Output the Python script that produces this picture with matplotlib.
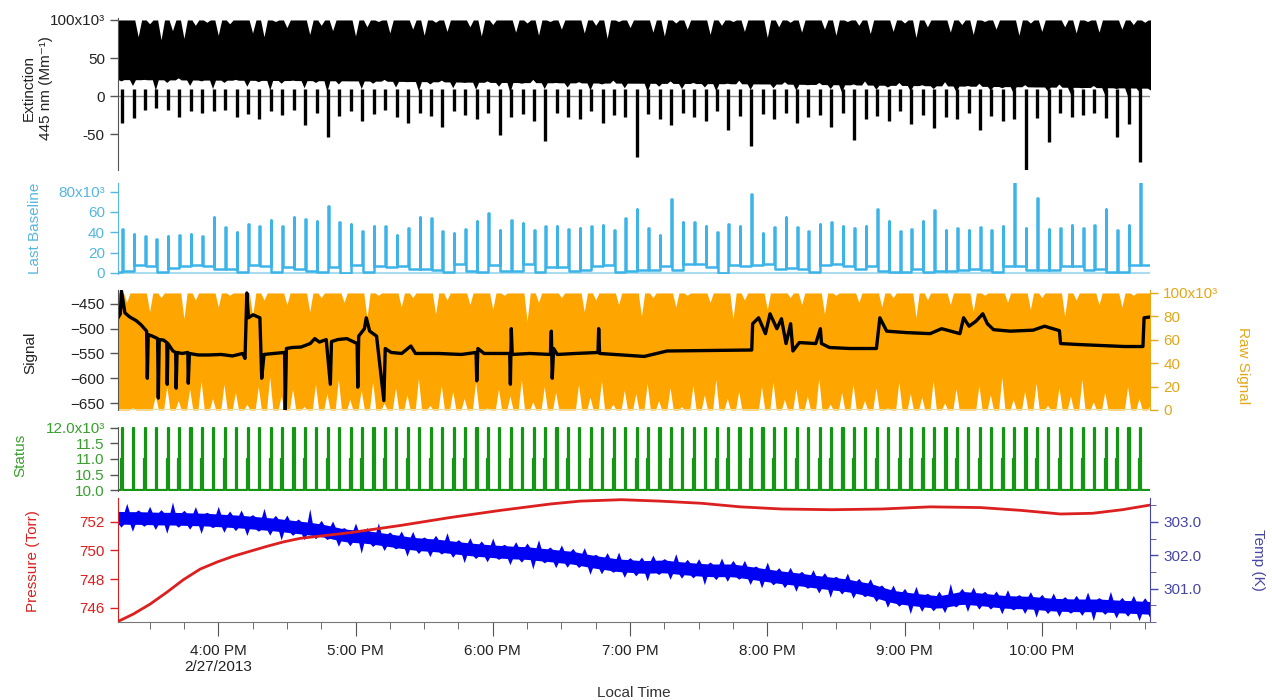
import numpy as np
import pandas as pd
import matplotlib
matplotlib.use("Agg")
import matplotlib.pyplot as plt
import matplotlib.dates as mdates
from matplotlib.ticker import FuncFormatter, MultipleLocator

plt.rcParams['font.family'] = ['Liberation Sans', 'DejaVu Sans']

######## Data ########
t_start = pd.Timestamp("2013-02-27 15:16:12")
t_end = pd.Timestamp("2013-02-27 22:47:18")

# zero / baseline events: first one 2 min after the start, then every 5 min
event_first_min = 1.8
event_step_min = 5.0
# noise notches on the dense traces: one every 5 min, top ones from 15:15, bottom ones 2.5 min later
notch_first_min = -1.2
notch_step_min = 5.0

# Last Baseline: spike height and level left after each event (x10^3)
base_peak = [43, 38, 36, 33, 36, 37, 38, 36, 55, 45, 40, 48, 46, 52, 46, 55, 53, 51, 66, 50,
             48, 41, 46, 46, 37, 44, 55, 54, 41, 39, 43, 51, 59, 42, 52, 49, 42, 46, 46, 43,
             44, 46, 47, 42, 54, 63, 44, 37, 73, 50, 50, 46, 40, 48, 46, 78, 39, 45, 55, 45,
             41, 48, 50, 46, 44, 46, 63, 51, 41, 43, 51, 62, 42, 44, 42, 45, 42, 46, 88, 44,
             74, 43, 44, 47, 44, 47, 63, 42, 47, 89]
base_level = [2.3, 8.2, 6.5, 1.0, 4.9, 7.2, 7.5, 6.5, 4.2, 4.2, 0.7, 8.2, 6.5, 1.0, 5.9, 3.9, 2.3, 1.0, 5.9, 0.0,
              8.2, 1.0, 7.2, 5.9, 6.5, 4.2, 4.2, 3.3, 1.0, 8.8, 2.3, 1.0, 8.2, 1.6, 1.6, 9.2, 1.0, 5.9, 5.9, 1.6,
              3.3, 6.5, 8.2, 1.0, 2.3, 3.3, 3.3, 7.2, 3.3, 8.8, 8.8, 5.9, 0.0, 7.5, 6.5, 8.2, 9.2, 3.9, 4.9, 3.9,
              1.0, 8.2, 9.2, 6.5, 3.9, 6.5, 1.6, 0.7, 0.7, 3.9, 0.7, 1.6, 1.6, 3.3, 4.2, 2.6, 0.7, 7.2, 7.2, 3.3,
              3.3, 3.3, 6.5, 6.5, 3.3, 3.9, 1.0, 1.0, 7.5, 8.2]
base_start_level = 0.5

# Extinction (x10^3 Mm-1): band top 100 with notches, band floor by the hour, dips at events
ext_top = [88, 100, 78, 95, 74, 86, 76, 93, 97, 80, 95, 100, 83, 78, 98, 90, 100, 81, 93, 86,
           100, 79, 91, 98, 83, 100, 88, 80, 97, 85, 100, 91, 79, 94, 100, 84, 96, 80, 98, 88,
           100, 83, 93, 76, 98, 90, 100, 84, 79, 96, 88, 100, 81, 93, 98, 85, 100, 77, 91, 97,
           84, 100, 88, 80, 98, 93, 82, 100, 85, 96, 77, 91, 100, 84, 94, 81, 98, 88, 100, 80,
           96, 85, 100, 91, 83, 98, 84, 100, 88, 94, 97, 89]
ext_bot = [20, 14, 22, 8, 18, 24, 14, 20, 10, 18, 22, 13, 19, 8, 17, 21, 11, 18, 6, 16,
           20, 10, 17, 22, 12, 19, 7, 16, 21, 11, 18, 9, 20, 13, 5, 17, 22, 10, 18, 12,
           19, 8, 16, 21, 11, 17, 6, 13, 20, 10, 18, 12, 7, 17, 21, 9, 16, 11, 19, 8,
           15, 18, 10, 5, 16, 20, 9, 12, 18, 7, 15, 10, 19, 6, 14, 17, 8, 11, 4, 15,
           12, 7, 16, 3, 11, 14, 2, 10, 0, 6, 8, 12]
ext_floor_hour = [15, 16, 17, 18, 19, 20, 21, 22, 23]
ext_floor = [22, 21, 20, 18, 17, 16, 14, 12, 10]
ext_dip = [-35, -29, -18, -15, -18, -27, -20, -22, -20, -18, -27, -24, -30, -20, -25, -18, -38, -22, -53, -26,
           -20, -32, -24, -18, -28, -35, -22, -26, -40, -20, -25, -30, -22, -51, -28, -24, -33, -59, -22, -27,
           -30, -20, -35, -25, -28, -80, -24, -30, -38, -22, -27, -33, -20, -45, -26, -66, -24, -30, -22, -35,
           -28, -25, -40, -22, -58, -30, -26, -33, -20, -36, -25, -42, -28, -30, -22, -45, -26, -32, -30, -97,
           -29, -60, -22, -27, -25, -22, -29, -53, -36, -86]

# Raw Signal (x10^3): fills 0..100 with notches from the top and from the bottom
raw_top = [100, 92, 100, 84, 96, 100, 78, 94, 100, 88, 98, 100, 80, 94, 100, 90, 100, 84, 96, 100,
           92, 100, 79, 98, 100, 88, 96, 100, 82, 94, 100, 90, 100, 86, 98, 100, 76, 92, 100, 96,
           100, 84, 94, 100, 90, 100, 80, 96, 100, 88, 98, 100, 92, 100, 78, 94, 100, 86, 100, 96,
           90, 100, 82, 98, 100, 92, 100, 88, 96, 100, 79, 94, 100, 90, 100, 84, 98, 100, 92, 100,
           86, 96, 100, 80, 94, 100, 90, 100, 88, 98, 100, 94]
raw_bot = [0, 2, 0, 12, 20, 8, 18, 25, 10, 22, 15, 5, 20, 28, 12, 18, 3, 22, 14, 26,
           9, 17, 24, 6, 19, 13, 27, 4, 21, 16, 10, 24, 2, 18, 12, 26, 7, 20, 15, 0,
           22, 11, 25, 5, 17, 14, 23, 8, 19, 3, 21, 13, 26, 10, 16, 0, 20, 24, 9, 18,
           12, 27, 5, 15, 22, 8, 19, 2, 24, 14, 11, 25, 6, 18, 0, 21, 13, 28, 9, 16,
           23, 4, 19, 12, 26, 7, 15, 0, 20, 10, 5, 3]

# Signal (black), minutes after the start and value
sig_min = [0.0, 1.0, 1.5, 2.2, 3.0, 5.0, 8.0, 10.0, 12.5, 12.8, 13.2, 15.0, 17.3, 17.6, 18.0,
           19.9, 21.3, 21.5, 21.8, 24.0, 25.2, 25.4, 25.8, 28.0, 30.5, 30.7, 31.2, 35.0, 40.0,
           45.0, 50.0, 54.5, 55.5, 56.3, 57.0, 59.0, 62.0, 62.8, 63.8, 68.0, 72.8, 73.1, 73.6,
           76.0, 80.0, 84.0, 86.0, 88.0, 91.0, 92.8, 93.3, 96.0, 100.0, 104.5, 104.8, 105.2,
           107.7, 108.5, 110.0, 113.0, 116.2, 116.8, 119.4, 124.0, 128.0, 130.0, 140.0, 150.0,
           156.5, 156.8, 157.3, 160.0, 171.2, 171.5, 171.9, 172.3, 180.0, 189.0, 189.4, 189.8,
           190.4, 192.0, 200.0, 209.8, 210.1, 210.5, 230.0, 240.0, 277.0, 277.4, 280.0, 283.0,
           285.0, 288.0, 290.0, 292.0, 294.0, 295.0, 297.8, 305.0, 307.0, 307.5, 311.0, 320.0,
           331.5, 333.0, 336.0, 345.0, 355.0, 360.0, 368.0, 369.6, 372.0, 375.0, 378.0, 380.0,
           382.7, 390.0, 400.0, 405.0, 411.5, 412.0, 420.0, 430.0, 440.0, 448.0, 448.5, 452.0]
sig_val = [-478, -470, -424, -445, -468, -476, -484, -492, -505, -600, -512, -515, -520, -640, -522,
           -523, -528, -612, -530, -545, -548, -620, -548, -550, -548, -610, -550, -553, -553,
           -552, -555, -550, -560, -428, -478, -472, -478, -600, -552, -550, -548, -664, -540,
           -538, -537, -530, -520, -527, -522, -612, -526, -522, -520, -530, -618, -515,
           -500, -478, -505, -515, -645, -540, -548, -550, -535, -550, -550, -552,
           -548, -605, -540, -550, -550, -612, -500, -552, -550, -552, -505, -600,
           -540, -552, -550, -548, -500, -550, -556, -545, -543, -490, -478, -510,
           -470, -500, -480, -530, -490, -545, -528, -530, -500, -530, -538, -540,
           -540, -478, -505, -508, -510, -500, -510, -478, -495, -485, -470, -490,
           -502, -505, -503, -495, -504, -530, -532, -534, -536, -536, -478, -476]

# Pressure (Torr), minutes after the start
pres_min = [0, 6.6, 14.0, 21.5, 28.5, 35.9, 43.4, 50.4, 57.8, 65.3, 72.3, 79.7, 101.6, 123.5,
            145, 167, 189, 202, 220, 237, 255, 272, 290, 312, 334, 355, 377, 395, 412, 426, 439, 452]
pres_val = [745.04, 745.55, 746.25, 747.1, 747.95, 748.7, 749.2, 749.6, 749.95, 750.3, 750.6, 750.85,
            751.25, 751.75, 752.3, 752.8, 753.25, 753.45, 753.55, 753.45, 753.3, 753.05, 752.9, 752.85,
            752.9, 753.05, 753.0, 752.8, 752.55, 752.6, 752.85, 753.2]

# Temperature (K): band centre every 5 min from 15:15, spikes above and below it
temp_mid = [303.13, 303.12, 303.12, 303.11, 303.10, 303.10, 303.09, 303.08, 303.07, 303.05,
            303.03, 303.01, 302.98, 302.95, 302.92, 302.88, 302.84, 302.80, 302.75, 302.68,
            302.60, 302.57, 302.55, 302.50, 302.45, 302.40, 302.35, 302.32, 302.30, 302.26,
            302.22, 302.18, 302.15, 302.12, 302.10, 302.08, 302.07, 302.03, 302.00, 301.96,
            301.93, 301.86, 301.80, 301.75, 301.70, 301.68, 301.65, 301.66, 301.67, 301.63,
            301.60, 301.57, 301.55, 301.55, 301.55, 301.50, 301.45, 301.40, 301.35, 301.31,
            301.27, 301.22, 301.18, 301.14, 301.10, 301.03, 300.97, 300.86, 300.76, 300.71,
            300.67, 300.63, 300.60, 300.66, 300.73, 300.70, 300.67, 300.63, 300.60, 300.59,
            300.58, 300.55, 300.52, 300.51, 300.50, 300.50, 300.50, 300.48, 300.46, 300.45,
            300.43, 300.42]
temp_up = [0.30, 0.44, 0.24, 0.36, 0.27, 0.50, 0.26, 0.38, 0.22, 0.42, 0.30, 0.35, 0.24, 0.46, 0.28,
           0.33, 0.25, 0.60, 0.30, 0.35, 0.23, 0.40, 0.28, 0.48, 0.25, 0.33, 0.37, 0.23, 0.30, 0.42,
           0.25, 0.35, 0.28, 0.40, 0.23, 0.33, 0.30, 0.44, 0.25, 0.35, 0.28, 0.37, 0.23, 0.33, 0.40,
           0.25, 0.30, 0.35, 0.23, 0.42, 0.28, 0.33, 0.25, 0.37, 0.30, 0.35, 0.23, 0.40, 0.28, 0.33,
           0.25, 0.35, 0.30, 0.23, 0.37, 0.28, 0.33, 0.25, 0.35, 0.30, 0.40, 0.23, 0.33, 0.50, 0.28,
           0.35, 0.25, 0.30, 0.37, 0.23, 0.33, 0.28, 0.35, 0.25, 0.30, 0.40, 0.23, 0.44, 0.28, 0.35,
           0.30, 0.25]
temp_down = [0.28, 0.40, 0.24, 0.33, 0.44, 0.25, 0.30, 0.42, 0.23, 0.35, 0.28, 0.40, 0.24, 0.33, 0.44,
             0.26, 0.35, 0.28, 0.24, 0.37, 0.30, 0.50, 0.26, 0.33, 0.23, 0.40, 0.28, 0.35, 0.24, 0.30,
             0.42, 0.26, 0.33, 0.23, 0.37, 0.28, 0.46, 0.24, 0.35, 0.30, 0.26, 0.40, 0.33, 0.23, 0.35,
             0.28, 0.42, 0.24, 0.37, 0.30, 0.26, 0.44, 0.28, 0.33, 0.24, 0.35, 0.40, 0.26, 0.30, 0.37,
             0.23, 0.33, 0.42, 0.28, 0.35, 0.24, 0.30, 0.37, 0.26, 0.44, 0.33, 0.28, 0.35, 0.24, 0.40,
             0.30, 0.26, 0.37, 0.23, 0.33, 0.42, 0.28, 0.35, 0.24, 0.30, 0.46, 0.26, 0.35, 0.28, 0.40,
             0.33, 0.26]
temp_band = 0.19


######## Helpers ########
def to_time(minutes):
    return t_start + pd.to_timedelta(np.asarray(minutes, dtype=float), unit="min")


def slots(first, step, n):
    return first + step * np.arange(n)


def notched_edge(tip_min, tips, base_x, base_y, half_w):
    # an edge sitting on the base curve with a narrow notch out to each tip
    xs = np.repeat(tip_min, 3) + np.tile([-half_w, 0.0, half_w], len(tip_min))
    ys = np.interp(xs, base_x, base_y)
    ys[1::3] = tips
    return xs, ys


def band(top_edge, bot_edge):
    # put both edges on one time grid for fill_between
    x = np.union1d(top_edge[0], bot_edge[0])
    return x, np.interp(x, *top_edge), np.interp(x, *bot_edge)


def baseline_path(ev_min, peaks, levels, first_level):
    w = 0.25
    xs, ys = [0.0], [first_level]
    prev = first_level
    for t, pk, lv in zip(ev_min, peaks, levels):
        xs += [t, t, t + w, t + w]
        ys += [prev, pk, pk, lv]
        prev = lv
    xs.append(452.0)
    ys.append(prev)
    return xs, ys


def status_path(ev_min):
    xs, ys = [0.0], [10.0]
    for t in ev_min:
        xs += [t - 0.4, t - 0.4, t - 0.15, t - 0.15, t + 0.35, t + 0.35]
        ys += [10.0, 11.0, 11.0, 12.0, 12.0, 10.0]
    xs.append(452.0)
    ys.append(10.0)
    return xs, ys


######## Colours ########
c_black = "#000000"
c_sky = "#3db4e8"
c_sky_txt = "#55b7e0"
c_orange = "#ffa500"
c_gold = "#e3a818"
c_green = "#149614"
c_green_txt = "#3a9f2e"
c_red = "#dc1f1f"
c_blue = "#0000f2"
c_slate = "#4646a6"
c_axis = "#555555"

######## Figure ########
fig = plt.figure(figsize=(12.72, 7.0), dpi=100)
L, W = 0.0928, 0.8113
ax1 = fig.add_axes([L, 0.7571, W, 0.2172])
ax2 = fig.add_axes([L, 0.6086, W, 0.1300], sharex=ax1)
ax3 = fig.add_axes([L, 0.4143, W, 0.1714], sharex=ax1)
ax4 = fig.add_axes([L, 0.2986, W, 0.0914], sharex=ax1)
ax5 = fig.add_axes([L, 0.1114, W, 0.1772], sharex=ax1)
ax3r = ax3.twinx()
ax5r = ax5.twinx()

fs = 11
span = [0.0, 452.0]

for ax in [ax1, ax2, ax3, ax4, ax5, ax3r, ax5r]:
    for s in ax.spines.values():
        s.set_visible(False)
    ax.tick_params(axis='x', which='both', bottom=False, labelbottom=False)
    ax.tick_params(axis='y', direction='out', length=6, width=1, labelsize=fs)

ev_min = slots(event_first_min, event_step_min, len(base_peak))

# ---- Extinction ----
floor_min = (np.array(ext_floor_hour) - 15) * 60 - 16.2
top = notched_edge(slots(notch_first_min, notch_step_min, len(ext_top)), ext_top, span, [100, 100], 1.5)
bot = notched_edge(slots(notch_first_min + 2.5, notch_step_min, len(ext_bot)), ext_bot,
                   floor_min, ext_floor, 1.3)
x, hi, lo = band(top, bot)
ax1.axhline(0, color="#8a8a8a", lw=1, zorder=1)
ax1.fill_between(to_time(x), lo, hi, color=c_black, lw=0, zorder=2)
ax1.vlines(to_time(ev_min[:len(ext_dip)]), ext_dip, 10, color=c_black, lw=2.4, zorder=2)
ax1.set_ylim(-97, 102.6)
ax1.set_yticks([-50, 0, 50, 100], labels=["-50", "0", "50", "100x10³"])
ax1.spines['left'].set_visible(True)
ax1.spines['left'].set_color(c_axis)
ax1.tick_params(axis='y', colors=c_axis, labelcolor="#222222")
ax1.set_ylabel("Extinction\n445 nm (Mm⁻¹)", fontsize=fs, color="#222222", linespacing=1.3)
ax1.yaxis.set_label_coords(-0.063, 0.54)

# ---- Last Baseline ----
bx, by = baseline_path(ev_min, base_peak, base_level, base_start_level)
ax2.axhline(0, color="#a9dcef", lw=1.5, zorder=1)
ax2.plot(to_time(bx), by, color=c_sky, lw=1.8, zorder=2)
ax2.set_ylim(-1, 88.5)
ax2.set_yticks([0, 20, 40, 60, 80], labels=["0", "20", "40", "60", "80x10³"])
ax2.spines['left'].set_visible(True)
ax2.spines['left'].set_color(c_sky_txt)
ax2.tick_params(axis='y', colors=c_sky_txt, labelcolor=c_sky_txt)
ax2.set_ylabel("Last Baseline", fontsize=fs, color=c_sky_txt)
ax2.yaxis.set_label_coords(-0.074, 0.5)

# ---- Signal / Raw Signal ----
top = notched_edge(slots(notch_first_min, notch_step_min, len(raw_top)), raw_top, span, [100, 100], 1.4)
bot = notched_edge(slots(notch_first_min + 2.5, notch_step_min, len(raw_bot)), raw_bot, span, [0, 0], 1.4)
x, hi, lo = band(top, bot)
ax3r.fill_between(to_time(x), lo, hi, color=c_orange, lw=0)
ax3r.axhline(0, color="#e9dc9a", lw=1.5)
ax3r.set_ylim(0, 102.5)
ax3r.set_yticks([0, 20, 40, 60, 80, 100], labels=["0", "20", "40", "60", "80", "100x10³"])
ax3r.spines['right'].set_visible(True)
ax3r.spines['right'].set_color(c_gold)
ax3r.tick_params(axis='y', colors=c_gold, labelcolor=c_gold)
ax3r.set_ylabel("Raw Signal", fontsize=fs, color=c_gold, rotation=-90)
ax3r.yaxis.set_label_coords(1.097, 0.37)

ax3.set_zorder(ax3r.get_zorder() + 1)
ax3.patch.set_visible(False)
ax3.plot(to_time(sig_min), sig_val, color=c_black, lw=2.4)
ax3.set_ylim(-664, -422)
ax3.set_yticks([-650, -600, -550, -500, -450])
ax3.spines['left'].set_visible(True)
ax3.spines['left'].set_color(c_axis)
ax3.tick_params(axis='y', colors=c_axis, labelcolor="#222222")
ax3.set_ylabel("Signal", fontsize=fs, color="#222222")
ax3.yaxis.set_label_coords(-0.0785, 0.48)

# ---- Status ----
sx, sy = status_path(ev_min)
ax4.plot(to_time(sx), sy, color=c_green, lw=1.6)
ax4.set_ylim(9.98, 12.02)
ax4.set_yticks([10.0, 10.5, 11.0, 11.5, 12.0], labels=["10.0", "10.5", "11.0", "11.5", "12.0x10³"])
ax4.spines['left'].set_visible(True)
ax4.spines['left'].set_color(c_axis)
ax4.tick_params(axis='y', colors=c_axis, labelcolor=c_green_txt)
ax4.set_ylabel("Status", fontsize=fs, color=c_green_txt)
ax4.yaxis.set_label_coords(-0.088, 0.56)

# ---- Pressure / Temp ----
t_min = slots(notch_first_min, notch_step_min, len(temp_mid))
mid = np.array(temp_mid)
top = notched_edge(t_min, mid + np.array(temp_up), t_min, mid + temp_band, 1.1)
bot = notched_edge(t_min + 2.5, np.interp(t_min + 2.5, t_min, mid) - np.array(temp_down),
                   t_min, mid - temp_band, 1.1)
x, hi, lo = band(top, bot)
ax5r.fill_between(to_time(x), lo, hi, color=c_blue, lw=0)
ax5r.set_ylim(300.0, 303.72)
ax5r.set_yticks([301.0, 302.0, 303.0], labels=["301.0", "302.0", "303.0"])
ax5r.yaxis.set_minor_locator(MultipleLocator(0.5))
ax5r.spines['right'].set_visible(True)
ax5r.spines['right'].set_color(c_slate)
ax5r.tick_params(axis='y', which='both', colors=c_slate, labelcolor=c_slate)
ax5r.tick_params(axis='y', which='minor', length=4)
ax5r.set_ylabel("Temp (K)", fontsize=fs, color=c_slate, rotation=-90)
ax5r.yaxis.set_label_coords(1.111, 0.5)

ax5.set_zorder(ax5r.get_zorder() + 1)
ax5.patch.set_visible(False)
ax5.plot(to_time(pres_min), pres_val, color=c_red, lw=2.0)
ax5.set_ylim(745.0, 753.67)
ax5.set_yticks([746, 748, 750, 752])
ax5.spines['left'].set_visible(True)
ax5.spines['left'].set_color(c_red)
ax5.tick_params(axis='y', colors=c_red, labelcolor=c_red)
ax5.set_ylabel("Pressure (Torr)", fontsize=fs, color=c_red)
ax5.yaxis.set_label_coords(-0.0756, 0.49)

# shared time axis
ax5.spines['bottom'].set_visible(True)
ax5.spines['bottom'].set_color("#777777")


def time_label(x, pos):
    d = mdates.num2date(x)
    s = d.strftime("%I:%M %p").lstrip("0")
    if d.hour == 16:
        s += "\n2/27/2013"
    return s


ax5.xaxis.set_major_locator(mdates.HourLocator())
ax5.xaxis.set_minor_locator(mdates.MinuteLocator(byminute=[15, 30, 45]))
ax5.xaxis.set_major_formatter(FuncFormatter(time_label))
ax5.tick_params(axis='x', which='both', bottom=True, labelbottom=True, direction='out',
                colors="#555555", labelcolor="#222222", labelsize=fs)
ax5.tick_params(axis='x', which='major', length=10, pad=6)
ax5.tick_params(axis='x', which='minor', length=5)
ax5.set_xlim(t_start, t_end)
ax5.set_xlabel("Local Time", fontsize=fs, color="#333333", va='top')
ax5.xaxis.set_label_coords(0.5, -0.515)

plt.savefig("out.png", dpi=100)
